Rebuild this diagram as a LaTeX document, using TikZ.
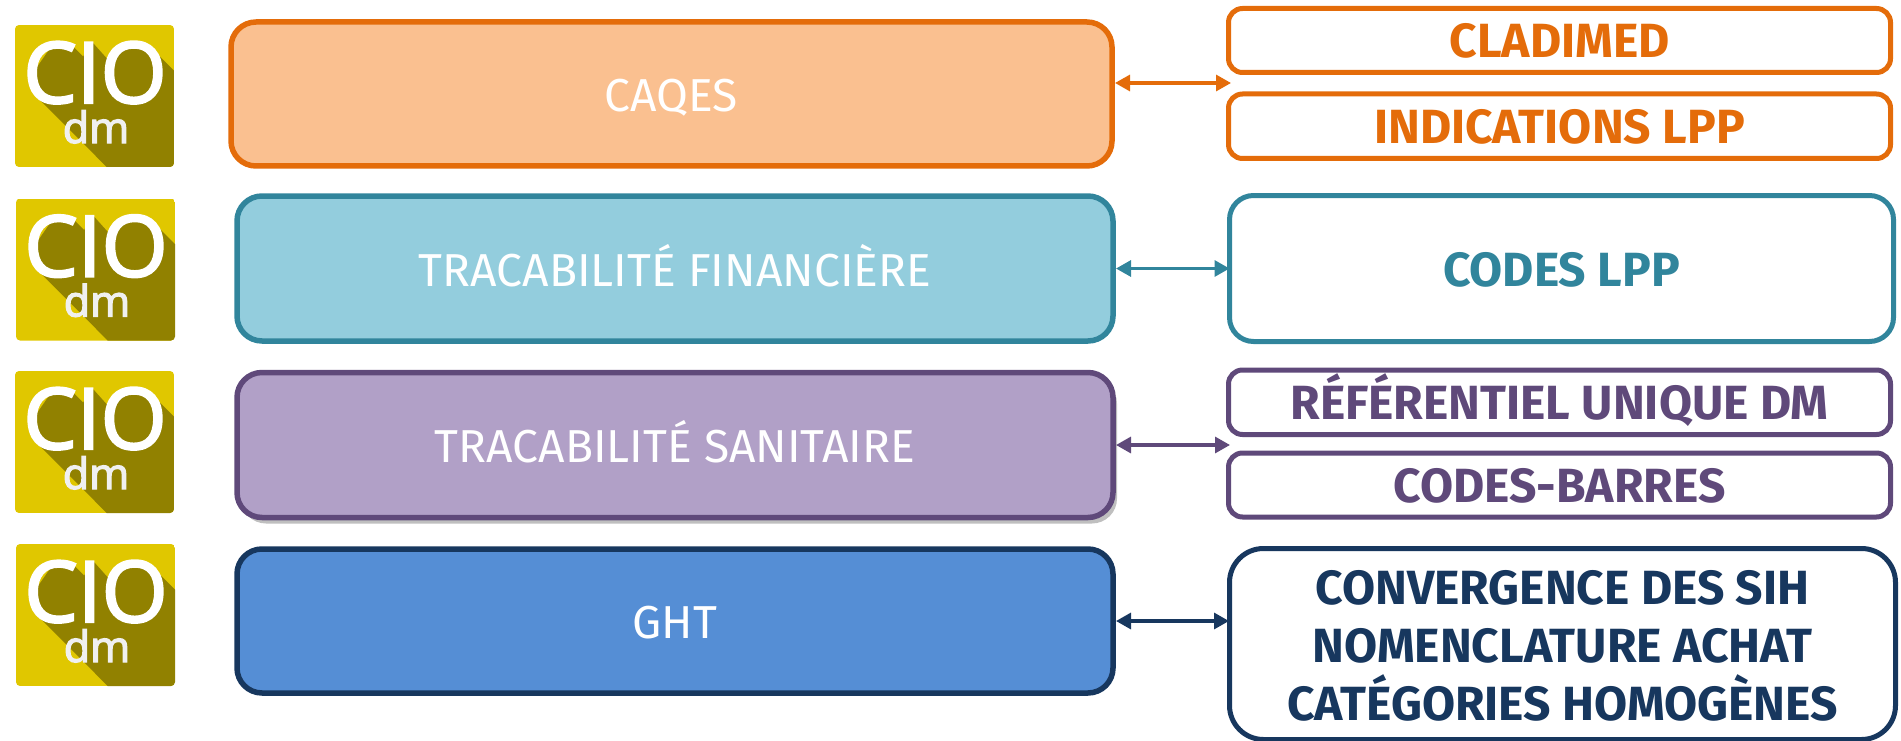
\documentclass[tikz,border=0pt]{standalone}
\usepackage{fontspec}
\setmainfont{Fira Sans}
\newfontfamily\logofont{Open Sans}
\usetikzlibrary{arrows.meta,shadows}
\definecolor{oDark}{HTML}{E46C0A}\definecolor{oFill}{HTML}{FAC090}
\definecolor{tDark}{HTML}{31859C}\definecolor{tFill}{HTML}{93CDDD}
\definecolor{vDark}{HTML}{5F497A}\definecolor{vFill}{HTML}{B1A0C7}
\definecolor{bDark}{HTML}{17375E}\definecolor{bFill}{HTML}{558ED5}
\definecolor{logoY}{HTML}{E0C700}\definecolor{logoS}{HTML}{918100}
\tikzset{
 x=1pt,y=-1pt,
 mainbox/.style={draw,line width=5.5pt,rounded corners=25pt,anchor=north west,inner sep=0,outer sep=0,text=white,text height=35pt,text depth=0pt,font=\fontsize{46.2}{47}\selectfont},
 sidebox/.style={draw,line width=5pt,fill=white,rounded corners=14pt,anchor=north west,inner sep=0,outer sep=0,font=\fontsize{48}{58}\selectfont\bfseries,align=center},
 oneline/.style={text height=35pt,text depth=0pt},
 dbl/.style={line width=3.2pt,shorten <=3pt,{Triangle[length=15pt,width=16pt]}-{Triangle[length=15pt,width=16pt]}},
}
\newcommand{\logoicon}[3]{%
 \begin{scope}[shift={(#1,#2)}]
 \begin{scope}
 \clip[rounded corners=4pt] (0,0) rectangle (159,142);
 \fill[logoY] (0,0) rectangle (159,142);
 \fill[logoS] (22,72) -- (20,45) -- (35,23.3) -- (56.7,20) -- (68.3,31.7) -- (73.3,18.3) -- (78.3,18.3) -- (91.7,33.3) -- (118.3,20) -- (136.7,23.3) -- (159.3,46) -- (159.3,142.3) -- (92,142.3) -- cycle;
 \end{scope}
 \node[text=white,inner sep=0,anchor=base,font=\logofont\fontsize{85}{85}\selectfont\addfontfeature{FakeBold=2.5}] (#3a) at (80,78) {CIO};
 \node[text=white!94!black,inner sep=0,anchor=base,font=\logofont\fontsize{43}{43}\selectfont\addfontfeature{FakeBold=3}] (#3b) at (81,118) {dm};
 \end{scope}}
\begin{document}
\begin{tikzpicture}
\useasboundingbox (0,0) rectangle (1901,741);
\logoicon{15}{25}{ia}
\logoicon{16}{198.5}{ib}
\logoicon{15}{371}{ic}
\logoicon{16}{544}{id}

\node[mainbox,draw=oDark,fill=oFill,minimum width=881pt,minimum height=144pt] (caqes) at (231,22) {CAQES};
\node[mainbox,draw=tDark,fill=tFill,minimum width=876pt,minimum height=145pt] (fin) at (237,196) {TRACABILITÉ FINANCIÈRE};
\node[mainbox,draw=vDark,fill=vFill,minimum width=876pt,minimum height=145pt,drop shadow={shadow xshift=4pt,shadow yshift=-6pt,opacity=.25,fill=black}] (san) at (237,372.5) {TRACABILITÉ SANITAIRE};
\node[mainbox,draw=bDark,fill=bFill,minimum width=876pt,minimum height=144pt] (ght) at (237,549) {GHT};

\node[sidebox,oneline,draw=oDark,text=oDark,minimum width=662pt,minimum height=64pt] (cla) at (1228.5,8.5) {CLADIMED};
\node[sidebox,oneline,draw=oDark,text=oDark,minimum width=662pt,minimum height=64.5pt] (ind) at (1228.5,94) {INDICATIONS LPP};
\node[sidebox,oneline,draw=tDark,text=tDark,rounded corners=24pt,minimum width=664pt,minimum height=146pt] (lpp) at (1229.5,195.5) {CODES LPP};
\node[sidebox,oneline,draw=vDark,text=vDark,minimum width=662pt,minimum height=64.5pt] (ref) at (1228.5,370) {RÉFÉRENTIEL UNIQUE DM};
\node[sidebox,oneline,draw=vDark,text=vDark,minimum width=662pt,minimum height=64pt] (bar) at (1228.5,453) {CODES-BARRES};
\node[sidebox,draw=bDark,text=bDark,rounded corners=34pt,minimum width=666pt,minimum height=191pt] (conv) at (1229.5,548.5) {\rule{0pt}{38pt}CONVERGENCE DES SIH\\NOMENCLATURE ACHAT\\CATÉGORIES HOMOGÈNES};

\coordinate (c1) at (1231,83);
\coordinate (c3) at (1230,445);
\coordinate (c4) at (1229,621);
\draw[dbl,draw=oDark,fill=oDark] (caqes.east |- c1) -- (c1);
\draw[dbl,draw=tDark,fill=tDark] (fin.east) -- (lpp.west);
\draw[dbl,draw=vDark,fill=vDark] (san.east |- c3) -- (c3);
\draw[dbl,draw=bDark,fill=bDark] (ght.east |- c4) -- (c4);
\end{tikzpicture}
\end{document}
